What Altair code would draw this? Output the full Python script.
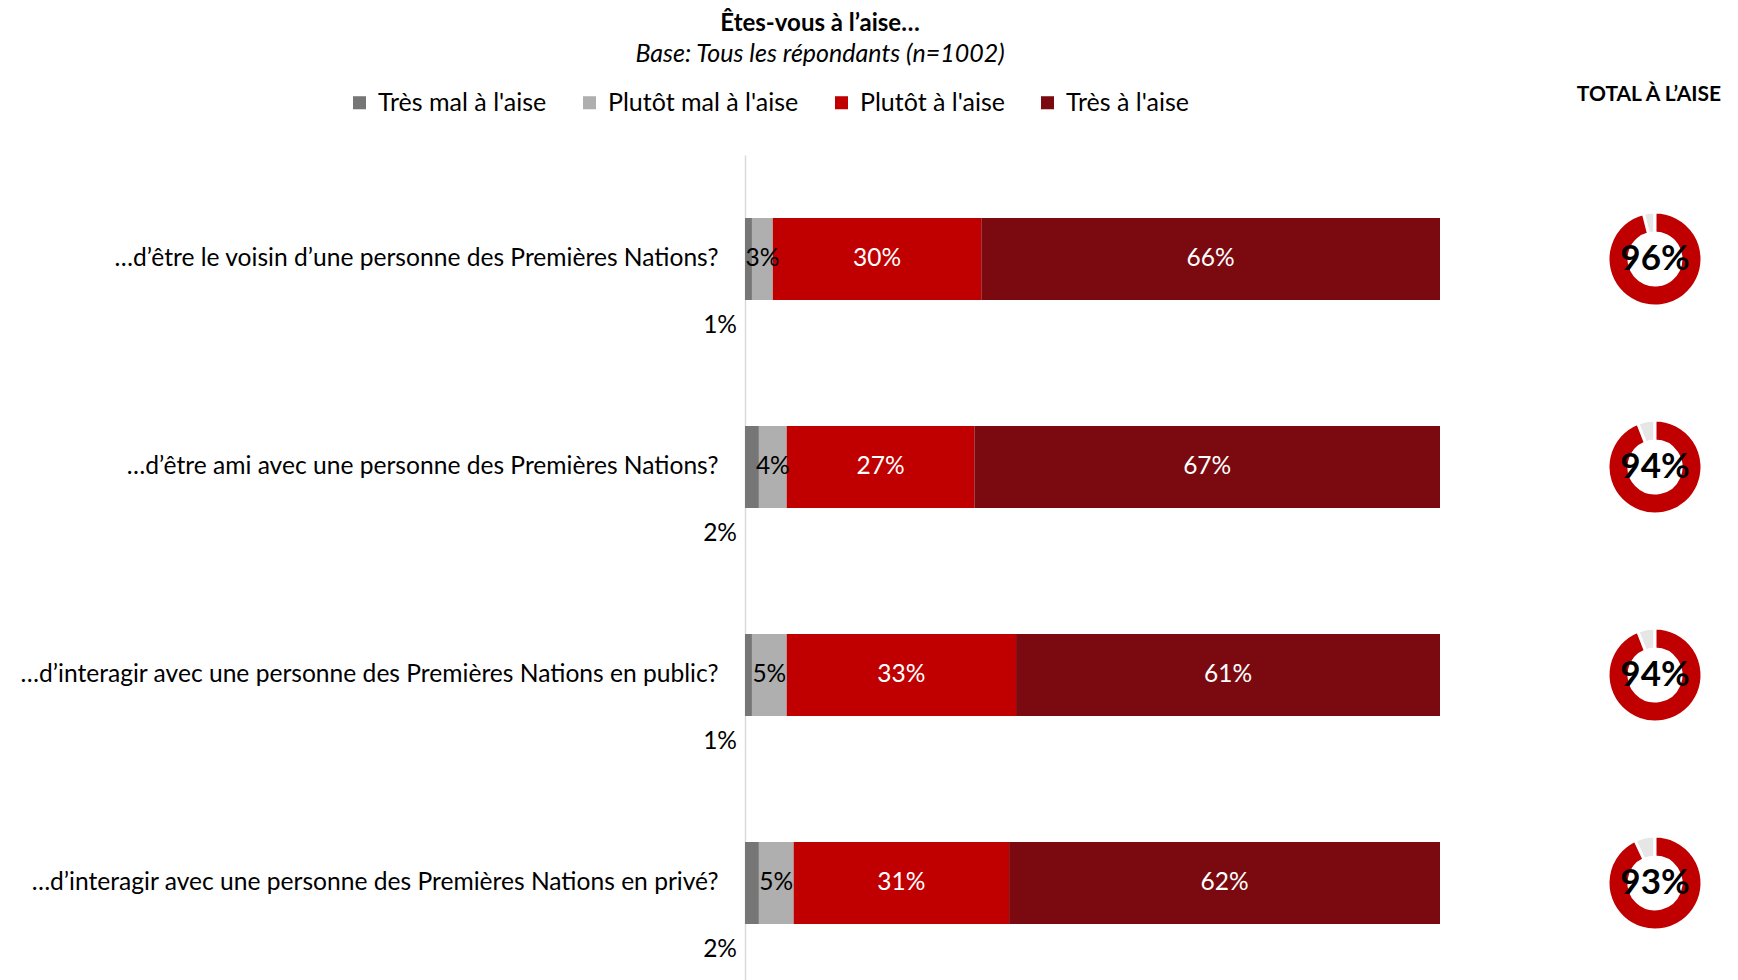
import altair as alt
import pandas as pd

title_text = "Êtes-vous à l’aise…"
subtitle_text = "Base: Tous les répondants (n=1002)"
total_header = "TOTAL À L’AISE"

questions = [
    "…d’être le voisin d’une personne des Premières Nations?",
    "…d’être ami avec une personne des Premières Nations?",
    "…d’interagir avec une personne des Premières Nations en public?",
    "…d’interagir avec une personne des Premières Nations en privé?",
]
categories = ["Très mal à l'aise", "Plutôt mal à l'aise", "Plutôt à l'aise", "Très à l'aise"]
colors = ["#767676", "#AFAFAF", "#C00000", "#7B0A10"]

tres_mal = [1, 2, 1, 2]
plutot_mal = [3, 4, 5, 5]
plutot_aise = [30, 27, 33, 31]
tres_aise = [66, 67, 61, 62]
total_aise = [96, 94, 94, 93]

series = [tres_mal, plutot_mal, plutot_aise, tres_aise]
rows = []
for qi, q in enumerate(questions):
    for k, (cat, vals) in enumerate(zip(categories, series)):
        rows.append({"question": q, "category": cat, "k": k, "value": vals[qi]})
df = pd.DataFrame(rows)

donut_main = pd.DataFrame({"question": questions, "start": [0] * 4, "end": total_aise,
                           "label": [f"{t}%" for t in total_aise]})
donut_rest = pd.DataFrame({"question": questions, "start": total_aise, "end": [100] * 4})

FONT = "Lato"
W, H = 695, 832
DONUT_X = 910

y_enc = alt.Y(
    "question:N", sort=questions, title=None,
    scale=alt.Scale(paddingInner=0.606, paddingOuter=0.303),
    axis=alt.Axis(labelFontSize=24.6, labelPadding=27, labelLimit=0, ticks=False,
                  domainColor="#D9D9D9", domainWidth=1.5, labelColor="black", grid=False),
)
x_scale = alt.Scale(domain=[0, 100])

base = (
    alt.Chart(df)
    .transform_window(end="sum(value)", frame=[None, 0], groupby=["question"],
                      sort=[alt.SortField("k")])
    .transform_calculate(start="datum.end - datum.value")
    .transform_calculate(mid="(datum.start + datum.end) / 2")
    .transform_calculate(label="datum.value + '%'")
)

bars = base.mark_bar().encode(
    x=alt.X("start:Q", scale=x_scale, axis=None),
    x2="end:Q",
    y=y_enc,
    color=alt.Color(
        "category:N",
        scale=alt.Scale(domain=categories, range=colors),
        sort=categories,
        legend=alt.Legend(orient="none", legendX=-398, legendY=-65, direction="horizontal",
                          title=None, labelFontSize=25, symbolType="square", symbolSize=170,
                          symbolStrokeWidth=0, columnPadding=30, labelOffset=6,
                          labelColor="black", labelLimit=0),
    ),
)

inside = base.transform_filter("datum.k > 0").mark_text(fontSize=24.5, baseline="middle").encode(
    x=alt.X("mid:Q", scale=x_scale, axis=None),
    y=y_enc,
    text="label:N",
    color=alt.when(alt.datum.k == 1).then(alt.value("black")).otherwise(alt.value("white")),
)

below = base.transform_filter("datum.k == 0").mark_text(
    fontSize=24.5, align="right", baseline="middle", dx=-8, dy=67, color="black"
).encode(
    x=alt.X("start:Q", scale=x_scale, axis=None),
    y=y_enc,
    text="label:N",
)

theta_scale = alt.Scale(domain=[0, 100], range=[0, 6.283185307179586])

arc_main = alt.Chart(donut_main).mark_arc(
    innerRadius=26, outerRadius=47, stroke="white", strokeWidth=3, color="#C00000"
).encode(
    theta=alt.Theta("start:Q", scale=theta_scale, stack=None),
    theta2="end:Q",
    x=alt.value(DONUT_X),
    y=y_enc,
)
arc_rest = alt.Chart(donut_rest).mark_arc(
    innerRadius=26, outerRadius=47, stroke="white", strokeWidth=3, color="#E6E6E6"
).encode(
    theta=alt.Theta("start:Q", scale=theta_scale, stack=None),
    theta2="end:Q",
    x=alt.value(DONUT_X),
    y=y_enc,
)
donut_text = alt.Chart(donut_main).mark_text(
    fontSize=35, fontWeight="bold", color="black", baseline="middle"
).encode(
    x=alt.value(DONUT_X),
    y=y_enc,
    text="label:N",
)

title = alt.Chart(pd.DataFrame({"t": [title_text]})).mark_text(
    fontSize=24, fontWeight="bold", color="black", baseline="middle"
).encode(text="t:N", x=alt.value(75), y=alt.value(-131))
subtitle = alt.Chart(pd.DataFrame({"t": [subtitle_text]})).mark_text(
    fontSize=25, fontStyle="italic", color="black", baseline="middle"
).encode(text="t:N", x=alt.value(75), y=alt.value(-101))
header = alt.Chart(pd.DataFrame({"t": [total_header]})).mark_text(
    fontSize=21, fontWeight="bold", color="black", baseline="middle"
).encode(text="t:N", x=alt.value(904), y=alt.value(-60))

chart = (
    alt.layer(bars, inside, below, arc_rest, arc_main, donut_text, title, subtitle, header)
    .properties(
        width=W, height=H,
        padding={"left": 737, "top": 147, "right": 290, "bottom": 10},
        autosize=alt.AutoSizeParams(type="none"),
        background="white",
    )
    .configure(font=FONT)
    .configure_view(stroke=None)
)

chart.save("out.html", embed_options={"renderer": "svg", "actions": False})
